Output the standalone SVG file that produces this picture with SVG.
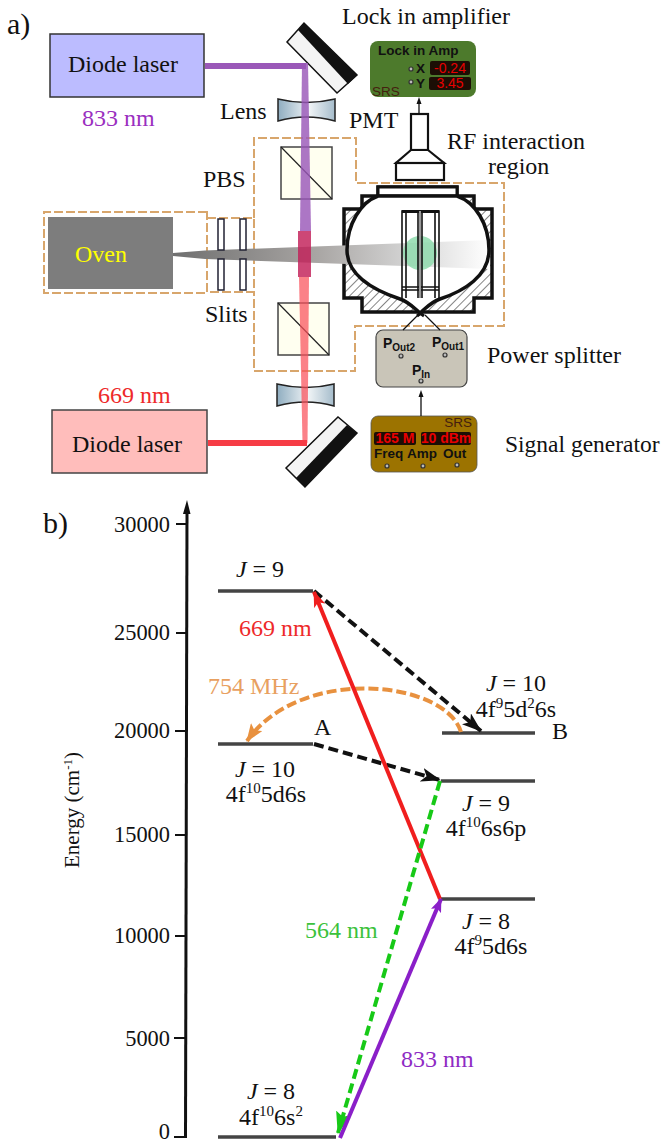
<svg xmlns="http://www.w3.org/2000/svg" width="663" height="1144" viewBox="0 0 663 1144">
<style>
text{font-family:"Liberation Serif",serif;fill:#111;font-size:24px}
.s{font-family:"Liberation Sans",sans-serif;font-weight:bold;font-size:13.500px}
.n{font-family:"Liberation Sans",sans-serif;font-size:13.500px;fill:#45200f}
.r{font-family:"Liberation Sans",sans-serif;font-size:14px;fill:#e80000;text-anchor:middle}
.dash{fill:none;stroke:#d8a66c;stroke-width:2;stroke-dasharray:9 3}
.lev{stroke:#444;stroke-width:3.500;fill:none}
.pbs{fill:#fffff0;stroke:#444;stroke-width:1.500}
.diag{stroke:#222;fill:none;stroke-width:1.200}
.sl{fill:#fff;stroke:#223;stroke-width:1.500}
.hole{fill:#bbb;stroke:#333;stroke-width:1.200}
.tick{stroke:#111;stroke-width:2;fill:none}
.ax{font-size:22.400px;text-anchor:end}
.c{text-anchor:middle}
.sup{font-size:15px}
.lens{fill:url(#lg);stroke:#222;stroke-width:1.500}
.mir{fill:#f4f4f4;stroke:#111;stroke-width:1.500}
</style>
<defs>
<linearGradient id="lg"><stop offset="0" stop-color="#8fadc0"/><stop offset=".55" stop-color="#f0f4f6"/><stop offset="1" stop-color="#a5bccb"/></linearGradient>
<linearGradient id="beam"><stop offset="0" stop-color="#6f6f6f"/><stop offset=".45" stop-color="#a8a5a3"/><stop offset=".75" stop-color="#d5d5d5"/><stop offset="1" stop-color="#fff"/></linearGradient>
<pattern id="hat" width="6" height="6" patternUnits="userSpaceOnUse" patternTransform="rotate(45)"><rect width="6" height="6" fill="#fff"/><line x1="0" y1="0" x2="0" y2="6" stroke="#333" stroke-width="1.200"/></pattern>
<marker id="ab" markerUnits="userSpaceOnUse" markerWidth="20" markerHeight="14" refX="19" refY="7" orient="auto"><path d="M0 0L20 7L0 14L5 7z" fill="#111"/></marker>
<marker id="ar" markerUnits="userSpaceOnUse" markerWidth="16" markerHeight="12" refX="15" refY="6" orient="auto"><path d="M0 0L16 6L0 12L4 6z" fill="#f01e1e"/></marker>
<marker id="ag" markerUnits="userSpaceOnUse" markerWidth="22" markerHeight="16" refX="21" refY="8" orient="auto"><path d="M0 0L22 8L0 16L4 8z" fill="#17c917"/></marker>
<marker id="ap" markerUnits="userSpaceOnUse" markerWidth="14" markerHeight="11" refX="13" refY="5.500" orient="auto"><path d="M0 0L14 5.500L0 11L3 5.500z" fill="#8a1fc8"/></marker>
<marker id="ao" markerUnits="userSpaceOnUse" markerWidth="18" markerHeight="14" refX="17" refY="7" orient="auto"><path d="M0 0L18 7L0 14L4 7z" fill="#e8913f"/></marker>
</defs>

<text x="7" y="34" style="font-size:30px">a)</text>
<text x="43" y="533" style="font-size:30px">b)</text>

<g id="regions">
<path class="dash" d="M207 212H44V293H207z"/>
<path class="dash" d="M207 218H254V292H207z"/>
<path class="dash" d="M254 218V138H356V183H504V326H355V371H254V292"/>
</g>

<g id="laser833"><rect x="50" y="34" width="154" height="63" fill="#bcbcff" stroke="#333" stroke-width="1.500"/><text x="68" y="72">Diode laser</text></g>
<text x="82" y="126" style="fill:#9a2fc0">833 nm</text>
<g id="laser669"><rect x="52" y="410" width="155" height="63" fill="#ffbdbb" stroke="#444" stroke-width="1.500"/><text x="72" y="452">Diode laser</text></g>
<text x="98" y="403" style="fill:#ee2a2a">669 nm</text>

<g id="mirror-top"><path class="mir" d="M287 42L304 23L357 75L337 93z"/><path d="M298 30L304 23L357 75L348 84z" fill="#111"/></g>
<g id="mirror-bottom"><path class="mir" d="M286 468L338 417L357 433L305 487z"/><path d="M296 478L347 425L357 433L305 487z" fill="#111"/></g>

<g id="lens-top"><path class="lens" d="M278 99Q306 106 335 99V121Q306 113 278 121z"/></g>
<g id="lens-bottom"><path class="lens" d="M277 384Q306 391 334 384V406Q306 398 277 406z"/></g>

<g id="pbs-top"><rect class="pbs" x="281" y="147" width="51" height="52"/><path class="diag" d="M281 147L332 199"/></g>
<g id="pbs-bottom"><rect class="pbs" x="278" y="303" width="51" height="52"/><path class="diag" d="M278 303L329 355"/></g>

<g id="oven"><rect x="48" y="217" width="125" height="72" fill="#7d7d7d"/><text x="75" y="262" style="fill:#ffff00">Oven</text></g>

<g id="chamber">
<path d="M344 209H362V196H378V187H457V196H474V209H492V298H474V312H362V298H344z" fill="url(#hat)" stroke="#111" stroke-width="3.500" stroke-linejoin="miter"/>
<rect x="378" y="187" width="79" height="9" fill="#fff" stroke="#111" stroke-width="3"/>
<path d="M378 196H457C475 202 489 224 489 250C489 276 464 291 440 299C431 302 426 308 420 313C414 308 409 302 400 299C376 291 347 276 347 250C347 224 361 202 378 196z" fill="#fff"/>
</g>

<g id="atom-beam"><path d="M173 253L205 250.500L490 240V269L205 259L173 256z" fill="url(#beam)"/></g>

<g id="beams">
<path d="M205 66H306" stroke="#9a58b8" stroke-width="6" fill="none"/>
<path d="M302 63H308L311 231H300z" fill="#9a58b8" opacity=".82"/>
<rect x="298" y="231" width="13" height="46" fill="#c21f58" opacity=".82"/>
<path d="M299 277H309L307.500 443H302.500z" fill="#f9505a" opacity=".72"/>
<path d="M208 443H307" stroke="#f63c45" stroke-width="6" fill="none"/>
</g>

<g id="slits"><rect class="sl" x="218" y="219" width="6" height="31"/><rect class="sl" x="240" y="219" width="6" height="31"/><rect class="sl" x="218" y="259" width="6" height="31"/><rect class="sl" x="240" y="259" width="6" height="31"/></g>

<g id="chamber-inner">
<circle cx="420" cy="253" r="17" fill="#8fdcae" opacity=".85"/>
<g fill="none" stroke="#111" stroke-width="1.600">
<path d="M402 298V211H439V298M406 211V298M418 211V298M422 211V298M435 211V298M402 287H439M402 290H439"/>
</g>
<path d="M402 211.500H439" stroke="#111" stroke-width="3" fill="none"/>
<path d="M419 211H421V298H419z" fill="#999"/>
<path d="M378 196H457C475 202 489 224 489 250C489 276 464 291 440 299C431 302 426 308 420 313C414 308 409 302 400 299C376 291 347 276 347 250C347 224 361 202 378 196z" fill="none" stroke="#111" stroke-width="3.500"/>
<path d="M417 311L424 316M424 311L417 316" stroke="#111" stroke-width="3" fill="none"/>
</g>

<g id="pmt" fill="#fff" stroke="#111" stroke-width="2.200">
<rect x="411" y="114" width="17" height="36"/>
<path d="M411 150H428L444 163H396z"/>
<rect x="396" y="163" width="48" height="17"/>
</g>

<g id="lockin">
<rect x="370" y="41" width="106" height="56" rx="8" fill="#4d7a2c"/>
<text class="s" x="378" y="55">Lock in Amp</text>
<circle class="hole" cx="411" cy="69" r="2"/><circle class="hole" cx="411" cy="82" r="2"/>
<text class="s" x="416" y="73">X</text><text class="s" x="416" y="88">Y</text>
<rect x="430" y="61" width="40" height="14" rx="2" fill="#1c0e05"/><rect x="429" y="77" width="42" height="13" rx="2" fill="#1c0e05"/>
<text class="r" x="450" y="73">-0.24</text>
<text class="r" x="450" y="88">3.45</text>
<text class="n" x="372" y="96">SRS</text>
</g>

<g id="splitter">
<rect x="376" y="330" width="91" height="57" rx="7" fill="#c9c5b8" stroke="#444" stroke-width="1.200"/>
<text class="s" x="383" y="348" style="font-size:14px">P<tspan dy="3" style="font-size:10px">Out2</tspan></text>
<text class="s" x="432" y="347" style="font-size:14px">P<tspan dy="3" style="font-size:10px">Out1</tspan></text>
<text class="s" x="412" y="375" style="font-size:14px">P<tspan dy="3" style="font-size:10px">In</tspan></text>
<circle class="hole" cx="401" cy="356" r="2"/><circle class="hole" cx="445" cy="355" r="2"/><circle class="hole" cx="421" cy="381" r="2"/>
</g>

<g id="siggen">
<rect x="371" y="416" width="106" height="56" rx="7" fill="#9c7300" stroke="#555" stroke-width=".8"/>
<text class="n" x="472" y="427" text-anchor="end">SRS</text>
<rect x="374" y="432" width="42" height="13" rx="2" fill="#1c0e05"/><rect x="421" y="432" width="50" height="13" rx="2" fill="#1c0e05"/>
<text class="r" x="395" y="443" style="font-weight:bold">165 M</text>
<text class="r" x="446" y="443" style="font-weight:bold">10 dBm</text>
<text class="s" x="374" y="458">Freq</text><text class="s" x="407" y="458">Amp</text><text class="s" x="443" y="458">Out</text>
<circle class="hole" cx="387" cy="466" r="2"/><circle class="hole" cx="423" cy="466" r="2"/><circle class="hole" cx="457" cy="465" r="2"/>
</g>

<g id="setup-connectors" fill="none" stroke="#111" stroke-width="1.300">
<path d="M419 114V100"/><path d="M419 97L416.500 104H421.500z" fill="#111" stroke="none"/>
<path d="M421 416V394"/><path d="M421 390L418.500 397H423.500z" fill="#111" stroke="none"/>
<path d="M418 315L403 330M425 315L440 330"/>
</g>

<text x="342" y="24">Lock in amplifier</text>
<text x="220" y="119">Lens</text>
<text x="349" y="128">PMT</text>
<text x="447" y="149">RF interaction</text>
<text x="488" y="174">region</text>
<text x="203" y="187">PBS</text>
<text x="205" y="322">Slits</text>
<text x="487" y="363">Power splitter</text>
<text x="505" y="452" style="font-size:23.500px">Signal generator</text>

<g id="axis">
<path d="M187 510L185.500 1138" stroke="#111" stroke-width="3" fill="none"/>
<path d="M187 500L183 514H190.500z" fill="#111"/>
<path class="tick" d="M176 524H187M176 633H187M175 731H187M175 835H186M175 936H186M174 1038H186M174 1137H186"/>
<text class="ax" x="170" y="532">30000</text>
<text class="ax" x="170" y="640">25000</text>
<text class="ax" x="170" y="738">20000</text>
<text class="ax" x="170" y="842">15000</text>
<text class="ax" x="170" y="943">10000</text>
<text class="ax" x="170" y="1046">5000</text>
<text class="ax" x="170" y="1139">0</text>
<text transform="translate(79 868) rotate(-90)" style="font-size:21px">Energy (cm<tspan style="font-size:13px" dy="-7">-1</tspan><tspan dy="7">)</tspan></text>
</g>

<g id="levels">
<path class="lev" d="M218 591H313"/><path class="lev" d="M218 744H313"/><path class="lev" d="M442 733H535"/><path class="lev" d="M441 781H535"/><path class="lev" d="M441 899H535"/><path class="lev" d="M218 1137H336"/>
</g>

<g id="connectors" fill="none">
<path d="M314 591L481 731" stroke="#111" stroke-width="4" stroke-dasharray="10 5" marker-end="url(#ab)"/>
<path d="M314 744L440 780" stroke="#111" stroke-width="4" stroke-dasharray="10 5" marker-end="url(#ab)"/>
<path d="M461 732C445 680 300 665 247 741" stroke="#e8913f" stroke-width="4" stroke-dasharray="10 4" marker-end="url(#ao)"/>
<path d="M440 899L314 592" stroke="#f01e1e" stroke-width="4" marker-end="url(#ar)"/>
<path d="M440 781L338 1133" stroke="#17c917" stroke-width="4" stroke-dasharray="10 5" marker-end="url(#ag)"/>
<path d="M340 1138L441 899" stroke="#8a1fc8" stroke-width="4" marker-end="url(#ap)"/>
</g>

<text x="239" y="636" style="fill:#ee2a2a">669 nm</text>
<text x="208" y="694" style="fill:#e8a060">754 MHz</text>
<text x="305" y="938" style="fill:#3cc23c">564 nm</text>
<text x="401" y="1067" style="fill:#8e2bc4">833 nm</text>
<text x="314" y="735">A</text>
<text x="552" y="739">B</text>

<g id="state-labels">
<text class="c" x="260" y="577"><tspan font-style="italic">J</tspan> = 9</text>
<text class="c" x="516" y="691"><tspan font-style="italic">J</tspan> = 10</text>
<text class="c" x="516" y="717">4f<tspan class="sup" dy="-9">9</tspan><tspan dy="9">5d</tspan><tspan class="sup" dy="-9">2</tspan><tspan dy="9">6s</tspan></text>
<text class="c" x="265" y="777"><tspan font-style="italic">J</tspan> = 10</text>
<text class="c" x="266" y="802">4f<tspan class="sup" dy="-9">10</tspan><tspan dy="9">5d6s</tspan></text>
<text class="c" x="486" y="811"><tspan font-style="italic">J</tspan> = 9</text>
<text class="c" x="486" y="836">4f<tspan class="sup" dy="-9">10</tspan><tspan dy="9">6s6p</tspan></text>
<text class="c" x="486" y="929"><tspan font-style="italic">J</tspan> = 8</text>
<text class="c" x="491" y="954">4f<tspan class="sup" dy="-9">9</tspan><tspan dy="9">5d6s</tspan></text>
<text class="c" x="271" y="1099"><tspan font-style="italic">J</tspan> = 8</text>
<text class="c" x="271" y="1125">4f<tspan class="sup" dy="-9">10</tspan><tspan dy="9">6s</tspan><tspan class="sup" dy="-9">2</tspan></text>
</g>
</svg>
